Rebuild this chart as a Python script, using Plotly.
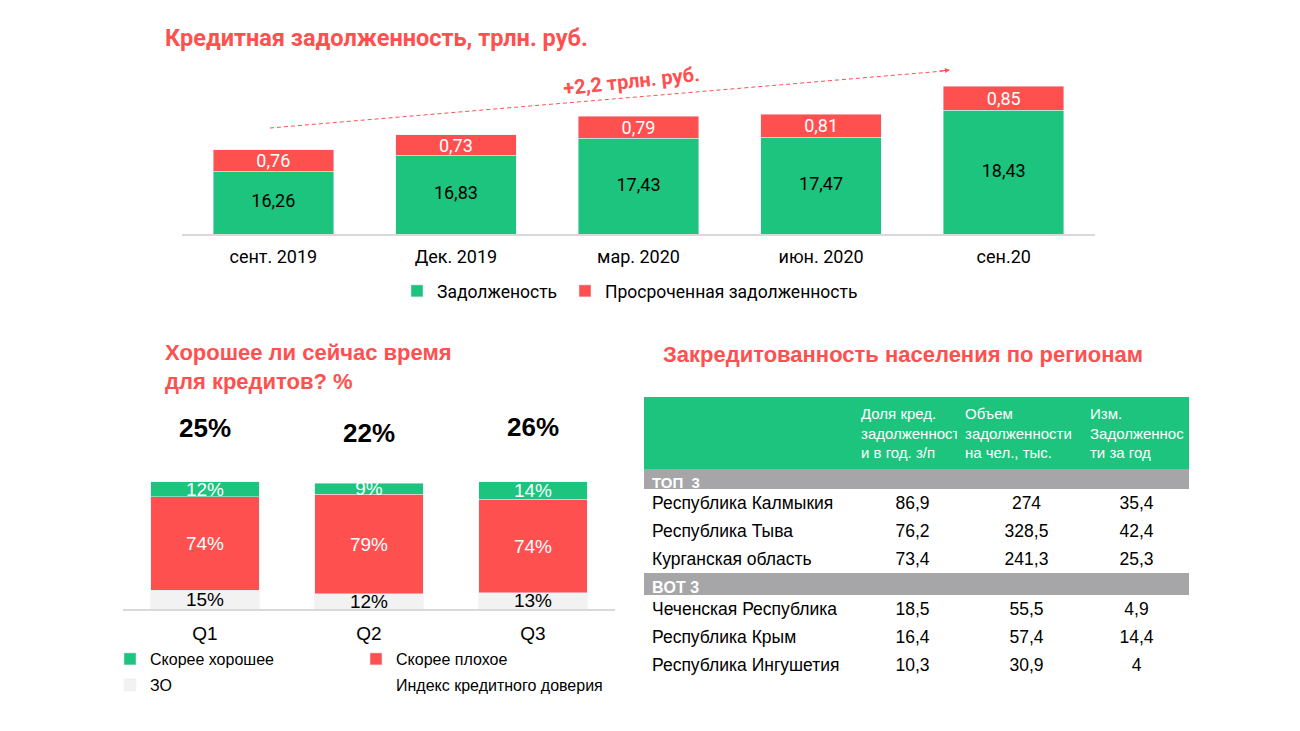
import plotly.graph_objects as go

# --- data -------------------------------------------------------------
periods = ['сент. 2019', 'Дек. 2019', 'мар. 2020', 'июн. 2020', 'сен.20']
debt = [16.26, 16.83, 17.43, 17.47, 18.43]
overdue = [0.76, 0.73, 0.79, 0.81, 0.85]

quarters = ['Q1', 'Q2', 'Q3']
good = [12, 9, 14]
bad = [74, 79, 74]
no_answer = [15, 12, 13]
trust_index = [25, 22, 26]

table_head = ['', 'Доля кред.<br>задолженност<br>и в год. з/п',
              'Объем<br>задолженности<br>на чел., тыс.',
              'Изм.<br>Задолженнос<br>ти за год']
top_regions = ['Республика Калмыкия', 'Республика Тыва', 'Курганская область']
top_share = [86.9, 76.2, 73.4]
top_volume = [274, 328.5, 241.3]
top_change = [35.4, 42.4, 25.3]
bot_regions = ['Чеченская Республика', 'Республика Крым', 'Республика Ингушетия']
bot_share = [18.5, 16.4, 10.3]
bot_volume = [55.5, 57.4, 30.9]
bot_change = [4.9, 14.4, 4]

# --- style ------------------------------------------------------------
OFF = 8                      # page body margin around the plot div
W, H = 1300 - OFF, 731 - OFF
GREEN = '#1DC47E'
RED = '#FF5050'
LIGHT = '#F2F2F2'
GREY = '#A6A6A8'
ARIAL = 'Liberation Sans'
ROBOTO = 'Roboto'
Y_FLOOR = 14.05              # bottom of the debt axis


def px(x):
    return (x - OFF) / W


def py(y):
    return 1 - (y - OFF) / H


def fmt(v):
    return '{:g}'.format(v).replace('.', ',')


fig = go.Figure()

# top chart: debt stacked bars
fig.add_trace(go.Bar(x=periods, y=debt, name='Задолженость', marker_color=GREEN,
                     textposition='none', legend='legend'))
fig.add_trace(go.Bar(x=periods, y=overdue, name='Просроченная задолженность', marker_color=RED,
                     texttemplate='%{y:.2f}', textposition='inside', insidetextanchor='middle',
                     textfont=dict(family=ROBOTO, size=18, color='white'), legend='legend2'))
# labels of the green part, centred in its visible piece
fig.add_trace(go.Scatter(x=periods, y=[(Y_FLOOR + d) / 2 for d in debt], mode='text',
                         text=[f'{d:.2f}'.replace('.', ',') for d in debt],
                         textfont=dict(family=ROBOTO, size=18, color='black'),
                         showlegend=False, hoverinfo='skip'))

# bottom-left chart: survey
fig.add_trace(go.Bar(x=quarters, y=no_answer, name='ЗО', marker_color=LIGHT,
                     text=[f'{v}%' for v in no_answer], textposition='inside', insidetextanchor='middle',
                     textfont=dict(family=ARIAL, size=19, color='black'),
                     xaxis='x2', yaxis='y2', legend='legend5'))
fig.add_trace(go.Bar(x=quarters, y=bad, name='Скорее плохое', marker_color=RED,
                     text=[f'{v}%' for v in bad], textposition='inside', insidetextanchor='middle',
                     textfont=dict(family=ARIAL, size=19, color='white'),
                     xaxis='x2', yaxis='y2', legend='legend4'))
fig.add_trace(go.Bar(x=quarters, y=good, name='Скорее хорошее', marker_color=GREEN,
                     text=[f'{v}%' for v in good], textposition='inside', insidetextanchor='middle',
                     textfont=dict(family=ARIAL, size=19, color='white'),
                     xaxis='x2', yaxis='y2', legend='legend3'))
fig.add_trace(go.Scatter(x=quarters, y=trust_index, name='Индекс кредитного доверия',
                         mode='markers+text', text=[f'{v}%' for v in trust_index],
                         textposition='middle center',
                         marker=dict(size=1, color='rgba(0,0,0,0)'),
                         textfont=dict(family=ARIAL, size=26, color='black', weight='bold'),
                         xaxis='x2', yaxis='y3', legend='legend6', hoverinfo='skip'))

# bottom-right: regions table (three stacked pieces)
data_w = [213, 111, 117, 103]
num_align = ['left', 'center', 'center', 'center']
cell_font = dict(family=ARIAL, size=17.5, color='black')
white_line = dict(color='white', width=1)
clear = 'rgba(0,0,0,0)'

fig.add_trace(go.Table(
    domain=dict(x=[px(644), px(1188)], y=[py(470), py(397)]),
    columnwidth=[209, 104, 125, 106],
    header=dict(values=table_head, height=72, align='left', fill_color=GREEN,
                line=dict(color=GREEN, width=1),
                font=dict(family=ARIAL, size=15, color='white')),
    cells=dict(values=[[''], [''], [''], ['']], height=1,
               fill_color=clear, line=dict(color=clear, width=0))))

sections = [
    ('ТОП  3', 15, 19, 469, 572, top_regions, top_share, top_volume, top_change),
    ('BOT 3', 16, 21, 573, 682, bot_regions, bot_share, bot_volume, bot_change),
]
for label, label_size, label_h, y0, y1, regions, share, volume, change in sections:
    fig.add_trace(go.Table(
        domain=dict(x=[px(644), px(1188)], y=[py(y1), py(y0)]),
        columnwidth=data_w,
        header=dict(values=[label, '', '', ''], height=label_h, align='left',
                    fill_color=GREY, line=dict(color=GREY, width=1),
                    font=dict(family=ARIAL, size=label_size, color='white', weight='bold')),
        cells=dict(values=[regions, [fmt(v) for v in share], [fmt(v) for v in volume],
                           [fmt(v) for v in change]],
                   height=28, align=num_align,
                   fill_color='white', line=white_line, font=cell_font)))

annotations = [
    dict(x=px(163), y=py(38), text='Кредитная задолженность, трлн. руб.',
         font=dict(family=ROBOTO, size=23.5, color=RED, weight='bold')),
    dict(x=px(560), y=py(81), text='+2,2 трлн. руб.', textangle=-6,
         font=dict(family=ROBOTO, size=20, color=RED, weight='bold')),
    dict(x=px(950), y=py(70), text='', showarrow=True, arrowhead=2, arrowsize=1,
         arrowwidth=1, arrowcolor=RED, ax=-14, ay=1.2),
    dict(x=px(163), y=py(367), text='Хорошее ли сейчас время<br>для кредитов? %',
         align='left', font=dict(family=ARIAL, size=22, color=RED, weight='bold')),
    dict(x=px(661), y=py(354), text='Закредитованность населения по регионам',
         font=dict(family=ARIAL, size=22, color=RED, weight='bold')),
]
for a in annotations:
    a.setdefault('xref', 'paper')
    a.setdefault('yref', 'paper')
    a.setdefault('xanchor', 'left')
    a.setdefault('yanchor', 'middle')
    a.setdefault('showarrow', False)

shapes = [dict(type='line', xref='paper', yref='paper', x0=px(270), y0=py(128),
               x1=px(944), y1=py(71), line=dict(color=RED, width=1, dash='4px,3px'))]


def legend_at(x, y, size, family):
    return dict(x=px(x), y=py(y), xanchor='left', yanchor='middle', orientation='h',
                bgcolor='rgba(0,0,0,0)', font=dict(family=family, size=size, color='black'))


fig.update_layout(
    width=W, height=H, margin=dict(l=0, r=0, t=0, b=0),
    paper_bgcolor='white', plot_bgcolor='white',
    barmode='stack', bargap=0.34, separators=', ',
    uniformtext=dict(minsize=18, mode='show'),
    showlegend=True,
    xaxis=dict(domain=[px(182), px(1095)], showline=True, linecolor='#D9D9D9', linewidth=2,
               tickfont=dict(family=ROBOTO, size=18, color='black'), ticks='',
               ticklabelstandoff=5, anchor='y'),
    yaxis=dict(domain=[py(234), py(60)], range=[Y_FLOOR, 20.2], visible=False,
               showgrid=False, anchor='x'),
    xaxis2=dict(domain=[px(123), px(615)], showline=True, linecolor='#D9D9D9', linewidth=2,
                tickfont=dict(family=ARIAL, size=19, color='black'), ticks='',
                ticklabelstandoff=6, anchor='y2'),
    yaxis2=dict(domain=[py(609), py(415)], range=[0, 154], visible=False,
                showgrid=False, anchor='x2'),
    yaxis3=dict(overlaying='y2', range=[-93.7, 35.6], visible=False, showgrid=False,
                anchor='x2'),
    legend=legend_at(397, 291, 17.5, ROBOTO),
    legend2=legend_at(565, 291, 17.5, ROBOTO),
    legend3=legend_at(110, 659, 16, ARIAL),
    legend4=legend_at(356, 659, 16, ARIAL),
    legend5=legend_at(110, 685, 16, ARIAL),
    legend6=legend_at(356, 685, 16, ARIAL),
    annotations=annotations,
    shapes=shapes,
)

fig.write_html('out.html')
